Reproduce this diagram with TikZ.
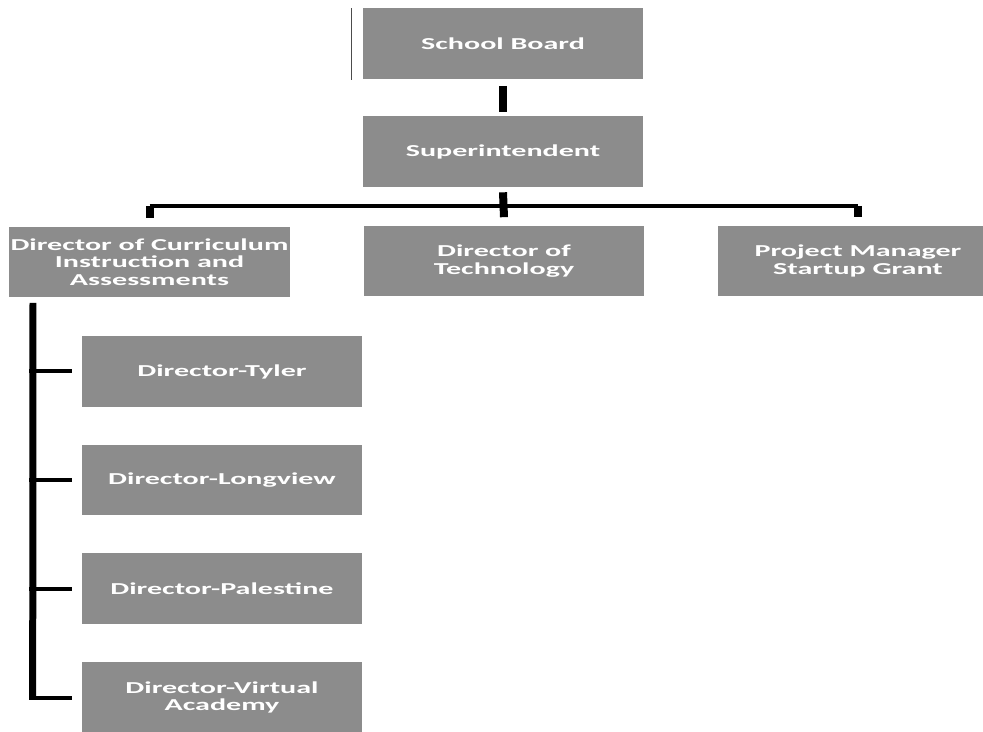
\documentclass[tikz,border=0pt]{standalone}
\usepackage{fontspec}
\newfontfamily\boxfont[FakeStretch=1.8]{Carlito}
\definecolor{boxgray}{gray}{0.55}
\tikzset{
    orgbox/.style={fill=boxgray, text=white, font=\boxfont\bfseries\fontsize{9.5}{10}\selectfont,
        minimum width=5.62cm, minimum height=1.42cm, inner sep=0pt, align=center},
    stem/.style={line width=0.16cm},
    bus/.style={line width=0.08cm},
    rail/.style={line width=0.14cm}
}

\begin{document}
\begin{tikzpicture}[x=0.02cm, y=-0.02cm]

    \useasboundingbox (0,0) rectangle (983,732);

    % top of the chart
    % nodes
    \node[orgbox] (board) at (503,44) {School Board};
    \node[orgbox] (supt) at (503,151.5) {Superintendent};
    \node[orgbox] (curr) at (149.5,262) {Director of Curriculum\\Instruction and\\Assessments};
    \node[orgbox] (tech) at (504,261) {Director of\\Technology};
    \node[orgbox] (grant) at (858,261) {Project Manager\\Startup Grant};

    % paths
    \coordinate (bus) at (503,206);
    \draw[line width=0.5pt, black!70] ([xshift=-0.22cm]board.north west) to ([xshift=-0.22cm]board.south west); % thin rule by the board
    \draw[stem] ([yshift=-0.12cm]board.south) to ([yshift=0.08cm]supt.north); % board -> supt
    \draw[stem] ([yshift=-0.1cm]supt.south) to ([yshift=0.16cm]tech.north); % supt -> tech
    \draw[bus] (curr.north |- bus) to (grant.north |- bus); % bus
    \draw[stem] (curr.north |- bus) to ([yshift=0.16cm]curr.north); % bus -> curr
    \draw[stem] (grant.north |- bus) to ([yshift=0.16cm]grant.north); % bus -> grant

    % campus directors
    % nodes
    \node[orgbox, minimum width=5.6cm] (tyler) at (222,371.5) {Director-Tyler};
    \node[orgbox, minimum width=5.6cm] (longview) at (222,480) {Director-Longview};
    \node[orgbox, minimum width=5.6cm] (palestine) at (222,588.5) {Director-Palestine};
    \node[orgbox, minimum width=5.6cm] (virtual) at (222,697.5) {Director-Virtual\\Academy};

    % paths
    \coordinate (railtop) at (33,303);
    \draw[rail] (railtop) to ([xshift=-0.98cm,yshift=-0.04cm]virtual.west); % curr -> rail
    \foreach \n in {tyler,longview,palestine,virtual}
        \draw[bus] ([xshift=-1.05cm]\n.west) to ([xshift=-0.2cm]\n.west); % rail -> campus

\end{tikzpicture}
\end{document}
